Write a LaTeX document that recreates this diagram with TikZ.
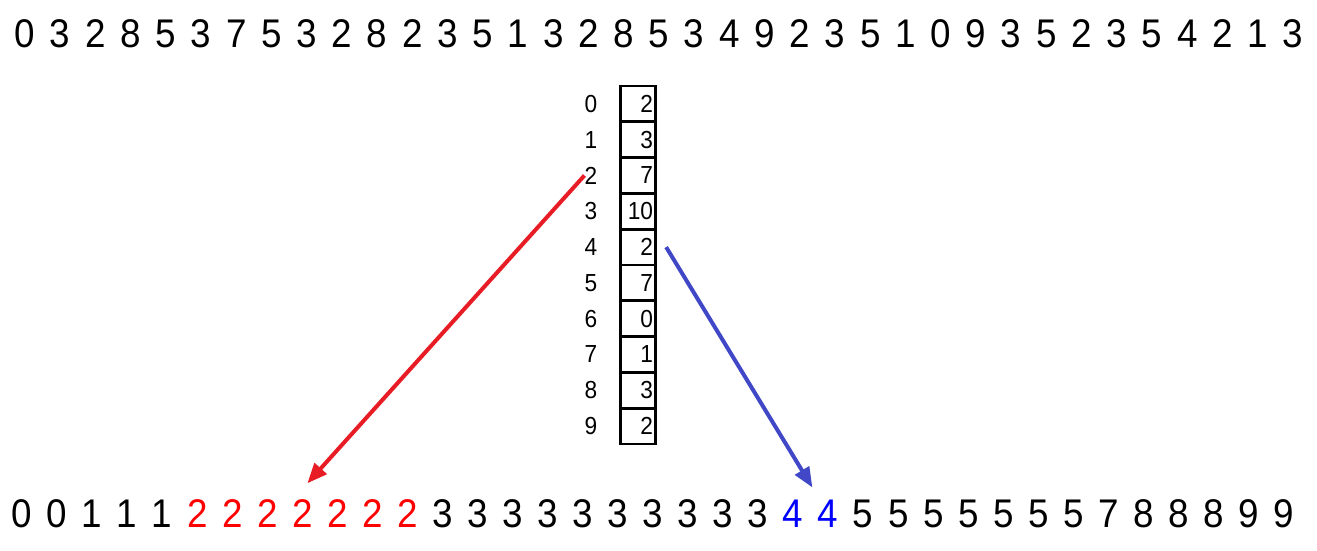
\documentclass[tikz,border=0pt]{standalone}
\usepackage{fontspec}
\setmainfont[FakeStretch=0.92]{Liberation Sans}
\usetikzlibrary{arrows.meta,calc}
\definecolor{arrowred}{RGB}{232,28,36}
\definecolor{arrowblue}{RGB}{64,72,200}
\tikzset{digit/.style={inner sep=0pt,font=\fontsize{30}{30}\selectfont},
         small/.style={inner sep=0pt,font=\fontsize{18.5}{18.5}\selectfont},
         cell/.style={draw,line width=2.2pt,minimum height=26.85pt,inner xsep=2pt,
                      text width=22.5pt,align=right,font=\fontsize{18.5}{18.5}\selectfont},
         pointer/.style={line width=3pt,-{Triangle[length=15pt,width=12pt]}}}

\begin{document}
\begin{tikzpicture}[x=0.75pt,y=-0.75pt]
  \useasboundingbox (0,0) rectangle (1317,550);
  % input sequence
  \foreach \d [count=\k] in {0,3,2,8,5,3,7,5,3,2,8,2,3,5,1,3,2,8,5,3,4,9,2,3,5,1,0,9,3,5,2,3,5,4,2,1,3}
    \node[digit] (t\k) at ({25+35.22*(\k-1)},34) {\d};
  % count array
  \foreach \c [count=\k from 0] in {2,3,7,10,2,7,0,1,3,2}{
    \node[cell] (c\k) at (638,{103.9+35.8*\k}) {\c};
    \node[small] (i\k) at (591,{103.9+35.8*\k}) {\k};
  }
  % sorted sequence
  \foreach \d [count=\k] in {0,0,1,1,1,2,2,2,2,2,2,2,3,3,3,3,3,3,3,3,3,3,4,4,5,5,5,5,5,5,5,7,8,8,8,9,9}{
    \ifcase\d \def\dc{black}\or\def\dc{black}\or\def\dc{red}\or\def\dc{black}\or\def\dc{blue}\else\def\dc{black}\fi
    \node[digit,text=\dc] (b\k) at ({22+35.05*(\k-1)},513.5) {\d};
  }
  \coordinate (redtip) at ($(b9.north)+(5,-16)$);
  \coordinate (bluetip) at ($(b23.north)!0.55!(b24.north)+(0,-12)$);
  \draw[pointer,arrowred] (i2.west) -- (redtip);
  \draw[pointer,arrowblue] ($(c4.east)+(9,0)$) -- (bluetip);
\end{tikzpicture}
\end{document}
